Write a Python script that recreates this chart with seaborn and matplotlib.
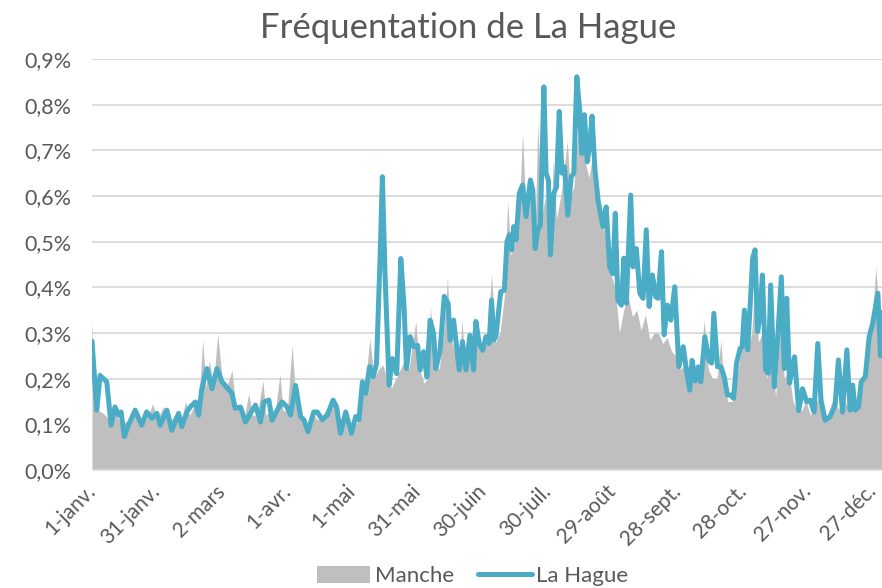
import matplotlib
matplotlib.use("Agg")
import matplotlib.pyplot as plt
import seaborn as sns
import pandas as pd
from matplotlib.lines import Line2D
from matplotlib.patches import Patch

# ---- data (day of year, share in %) ----
manche_jour = [0, 1, 3, 5, 8, 11, 14, 17, 20, 23, 26, 28, 30, 33, 35, 38, 41, 43, 45, 47, 49, 51, 52.5, 54, 56, 57.9,
               60, 62, 64.5, 66, 68, 70, 72.2, 74, 76, 78.8, 80, 82, 84, 86.6, 88, 90, 92.2, 94, 96, 98, 100, 102,
               104, 106, 108, 110, 112, 114, 116, 118, 120, 122, 124, 126, 128, 130, 132, 134, 136, 138, 140, 142,
               144, 146, 149.2, 151, 153, 154.5, 156, 158, 160, 162, 163.8, 165, 167, 169, 170.5, 172, 174, 176,
               178, 180, 182, 184.1, 186, 188, 190, 191.5, 193, 195, 196.5, 198.4, 200, 202, 204, 205.4, 207, 209,
               211, 212.5, 214, 216, 219, 220.5, 222, 223.5, 225.4, 227, 229, 231, 233, 235, 237, 239, 241, 243,
               245, 247, 249, 251, 253, 255, 257, 259, 261, 263, 265, 267, 269, 271, 273, 275, 277, 279, 280.5,
               282, 284, 286, 288, 289.8, 291, 293, 295, 297, 299, 300.6, 302, 304, 305.5, 307, 309, 311, 313,
               315, 317, 319, 321, 323, 325, 327, 329, 331, 333, 335, 337, 339, 341, 343, 345, 347, 349, 351,
               353, 355, 357, 359, 361.2, 363, 364]
manche_val = [0.33, 0.2, 0.13, 0.125, 0.11, 0.12, 0.1, 0.11, 0.12, 0.1, 0.12, 0.145, 0.11, 0.14, 0.1, 0.12, 0.1, 0.15,
              0.12, 0.14, 0.13, 0.284, 0.18, 0.24, 0.19, 0.298, 0.2, 0.18, 0.218, 0.15, 0.13, 0.11, 0.167, 0.12,
              0.12, 0.196, 0.12, 0.13, 0.11, 0.211, 0.13, 0.13, 0.273, 0.15, 0.11, 0.1, 0.1, 0.12, 0.11, 0.12,
              0.13, 0.13, 0.15, 0.08, 0.12, 0.08, 0.1, 0.1, 0.17, 0.19, 0.288, 0.2, 0.22, 0.23, 0.2, 0.18, 0.2,
              0.22, 0.24, 0.22, 0.325, 0.22, 0.19, 0.2, 0.354, 0.24, 0.22, 0.3, 0.42, 0.3, 0.26, 0.22, 0.328,
              0.22, 0.25, 0.339, 0.27, 0.26, 0.28, 0.43, 0.28, 0.3, 0.38, 0.59, 0.47, 0.5, 0.52, 0.74, 0.55, 0.6,
              0.48, 0.766, 0.55, 0.6, 0.47, 0.678, 0.55, 0.6, 0.72, 0.6, 0.62, 0.72, 0.813, 0.68, 0.64, 0.7, 0.6,
              0.55, 0.5, 0.43, 0.4, 0.3, 0.35, 0.38, 0.336, 0.35, 0.306, 0.34, 0.285, 0.3, 0.3, 0.277, 0.29,
              0.26, 0.25, 0.22, 0.23, 0.2, 0.197, 0.2, 0.23, 0.328, 0.22, 0.2, 0.2, 0.285, 0.19, 0.15, 0.15,
              0.2, 0.26, 0.321, 0.26, 0.3, 0.43, 0.28, 0.3, 0.2, 0.25, 0.16, 0.3, 0.2, 0.22, 0.15, 0.13, 0.13,
              0.15, 0.12, 0.14, 0.16, 0.11, 0.12, 0.15, 0.14, 0.13, 0.15, 0.13, 0.15, 0.14, 0.2, 0.22, 0.3,
              0.445, 0.3, 0.35]

hague_jour = [0, 2.2, 3.7, 6.8, 8.8, 10.6, 12.2, 13.4, 14.9, 16.8, 19.9, 22.9, 25.2, 27.6, 29.9, 31.4, 34.5, 36.8,
              39.9, 41.4, 43.7, 45.3, 47.6, 49.1, 50.6, 52.9, 55.3, 57.6, 59.9, 61.4, 64.5, 66.0, 68.4, 70.7,
              73.0, 75.3, 77.6, 79.2, 81.5, 83.0, 85.3, 87.6, 89.9, 91.5, 93.8, 96.1, 97.6, 99.5, 102.2, 103.8,
              106.1, 108.4, 111.1, 112.7, 114.5, 116.9, 119.5, 121.5, 123.0, 124.6, 126.1, 127.9, 129.6, 131.1,
              132.7, 133.8, 135.0, 136.9, 138.4, 140.4, 142.3, 143.8, 144.9, 146.6, 148.1, 150.0, 151.2, 152.8,
              154.3, 155.8, 157.4, 158.4, 160.4, 162.3, 164.1, 165.0, 166.6, 169.2, 170.7, 172.3, 174.1, 175.8,
              176.9, 178.4, 180.0, 181.5, 183.0, 184.1, 185.1, 186.1, 188.3, 190.0, 191.2, 192.3, 193.4, 194.3,
              195.4, 196.9, 198.4, 200.0, 202.0, 203.1, 204.2, 205.4, 206.6, 208.2, 209.2, 210.3, 211.2, 212.8,
              214.0, 215.3, 216.5, 217.7, 219.2, 220.8, 222.0, 223.4, 224.6, 225.7, 226.9, 228.2, 229.3, 230.4,
              231.7, 233.2, 235.4, 236.9, 238.5, 240.0, 241.1, 242.3, 243.9, 245.1, 246.2, 248.2, 249.3, 250.8,
              252.4, 253.9, 255.4, 256.7, 258.2, 259.8, 260.8, 262.4, 263.6, 265.1, 266.7, 268.5, 270.4, 272.4,
              273.9, 275.4, 276.5, 278.0, 279.4, 280.5, 282.4, 284.2, 285.5, 286.5, 288.2, 289.8, 291.3, 292.8,
              294.4, 295.6, 297.0, 298.6, 299.6, 300.6, 302.1, 303.3, 304.4, 305.5, 306.7, 307.8, 308.9, 310.4,
              311.6, 312.7, 314.4, 315.9, 317.6, 319.0, 320.1, 321.4, 323.7, 325.6, 327.4, 329.3, 330.9, 332.7,
              334.4, 335.9, 337.8, 340.1, 342.4, 343.9, 345.8, 347.8, 349.3, 350.5, 351.6, 353.2, 354.4, 356.3,
              358.1, 359.7, 362.1, 363.3, 364]
hague_val = [0.282, 0.131, 0.207, 0.193, 0.098, 0.138, 0.12, 0.127, 0.073, 0.098, 0.131, 0.098, 0.127, 0.113, 0.124,
             0.098, 0.131, 0.087, 0.124, 0.095, 0.127, 0.138, 0.149, 0.12, 0.178, 0.222, 0.178, 0.222, 0.193,
             0.185, 0.167, 0.135, 0.138, 0.105, 0.124, 0.142, 0.105, 0.149, 0.153, 0.109, 0.131, 0.149, 0.138,
             0.12, 0.185, 0.117, 0.110, 0.084, 0.127, 0.127, 0.11, 0.12, 0.153, 0.138, 0.08, 0.127, 0.08, 0.117,
             0.11, 0.193, 0.168, 0.226, 0.204, 0.233, 0.46, 0.642, 0.431, 0.186, 0.244, 0.211, 0.463, 0.357,
             0.222, 0.292, 0.27, 0.273, 0.219, 0.259, 0.204, 0.328, 0.299, 0.222, 0.262, 0.38, 0.365, 0.284,
             0.328, 0.219, 0.281, 0.219, 0.295, 0.219, 0.325, 0.277, 0.262, 0.292, 0.277, 0.372, 0.285, 0.292,
             0.39, 0.394, 0.5, 0.515, 0.482, 0.533, 0.504, 0.606, 0.624, 0.555, 0.635, 0.613, 0.485, 0.526,
             0.537, 0.839, 0.65, 0.635, 0.471, 0.606, 0.62, 0.785, 0.65, 0.664, 0.558, 0.642, 0.65, 0.861,
             0.789, 0.693, 0.778, 0.675, 0.711, 0.775, 0.66, 0.59, 0.533, 0.576, 0.445, 0.43, 0.562, 0.372,
             0.361, 0.464, 0.365, 0.602, 0.445, 0.485, 0.387, 0.376, 0.526, 0.358, 0.427, 0.379, 0.376, 0.478,
             0.296, 0.361, 0.328, 0.401, 0.226, 0.27, 0.219, 0.175, 0.24, 0.195, 0.226, 0.193, 0.292, 0.241,
             0.234, 0.343, 0.226, 0.226, 0.204, 0.164, 0.164, 0.157, 0.234, 0.266, 0.27, 0.35, 0.263, 0.365,
             0.464, 0.482, 0.303, 0.339, 0.427, 0.219, 0.212, 0.405, 0.182, 0.285, 0.423, 0.222, 0.376, 0.19,
             0.248, 0.13, 0.178, 0.149, 0.153, 0.127, 0.277, 0.153, 0.109, 0.117, 0.142, 0.241, 0.127, 0.263,
             0.131, 0.186, 0.131, 0.138, 0.193, 0.204, 0.292, 0.321, 0.387, 0.25, 0.345]

tick_jours = [0, 30, 60, 90, 120, 150, 180, 210, 240, 270, 300, 330, 360]
tick_labels = ["1-janv.", "31-janv.", "2-mars", "1-avr.", "1-mai", "31-mai", "30-juin", "30-juil.",
               "29-août", "28-sept.", "28-oct.", "27-nov.", "27-déc."]
y_ticks = [0, 0.1, 0.2, 0.3, 0.4, 0.5, 0.6, 0.7, 0.8, 0.9]
y_labels = ["0,0%", "0,1%", "0,2%", "0,3%", "0,4%", "0,5%", "0,6%", "0,7%", "0,8%", "0,9%"]

GRAY = "#BFBFBF"
BLUE = "#4BACC6"
TXT = "#595959"
FONT = ["Lato", "DejaVu Sans"]

sns.set_theme(style="white")
plt.rcParams["font.family"] = FONT

df_m = pd.DataFrame({"jour": manche_jour, "part": manche_val})
df_h = pd.DataFrame({"jour": hague_jour, "part": hague_val})

fig = plt.figure(figsize=(8.82, 5.88), dpi=100)
ax = fig.add_axes([0.1043, 0.2007, 0.8957, 0.699])

for yt in y_ticks[1:]:
    ax.axhline(yt, color="#D9D9D9", lw=1.3, zorder=0)
ax.axhline(0, color="#D9D9D9", lw=1.3, zorder=3)

ax.fill_between(df_m["jour"], 0, df_m["part"], color=GRAY, lw=0, zorder=1)
sns.lineplot(data=df_h, x="jour", y="part", ax=ax, color=BLUE, lw=3.6, sort=True,
             estimator=None, zorder=2, solid_joinstyle="round", solid_capstyle="round")

ax.set_xlim(0, 364)
ax.set_ylim(0, 0.9)
ax.set_yticks(y_ticks)
ax.set_yticklabels(y_labels, fontsize=15.5, color=TXT)
ax.set_xticks(tick_jours)
ax.set_xticklabels(tick_labels, fontsize=15, color=TXT, rotation=45, ha="right", va="center",
                   rotation_mode="anchor")
ax.tick_params(axis="x", length=0, pad=13)
ax.tick_params(axis="y", length=0, pad=15)
ax.set_xlabel("")
ax.set_ylabel("")
for s in ax.spines.values():
    s.set_visible(False)
ax.grid(False)

fig.text(0.531, 0.953, "Fréquentation de La Hague", ha="center", va="center", fontsize=25, color=TXT,
         family=FONT)

handles = [Patch(facecolor=GRAY, edgecolor="none", label="Manche"),
           Line2D([0], [0], color=BLUE, lw=3.6, label="La Hague")]
fig.legend(handles=handles, loc="center", bbox_to_anchor=(0.536, 0.02), ncol=2, frameon=False,
           fontsize=16, labelcolor=TXT, handlelength=2.4, handleheight=0.8, columnspacing=1.1,
           handletextpad=0.2, borderpad=0, borderaxespad=0)

fig.savefig("out.png", dpi=100)
